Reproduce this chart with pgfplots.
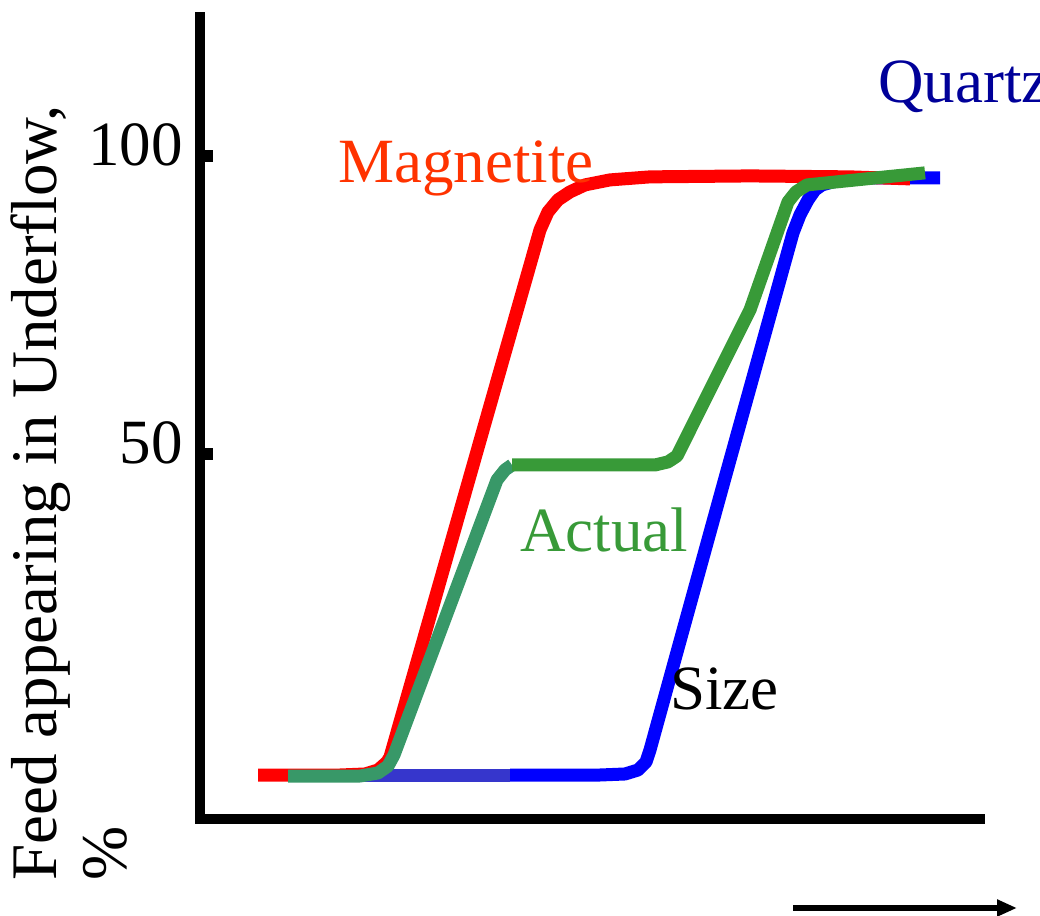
\documentclass[border=0pt]{standalone}
\usepackage{fontspec}
\setmainfont{Liberation Serif}
\usepackage{pgfplots}
\pgfplotsset{compat=1.18}
\usetikzlibrary{arrows.meta}

\definecolor{magred}{RGB}{255,0,0}
\definecolor{magtext}{RGB}{255,51,0}
\definecolor{qzblue}{RGB}{0,0,255}
\definecolor{qzlight}{RGB}{54,54,204}
\definecolor{qztext}{RGB}{0,0,153}
\definecolor{actgreen}{RGB}{56,154,56}
\definecolor{actteal}{RGB}{56,152,104}

\newcommand{\lblfont}{\fontsize{31.5pt}{36pt}\selectfont}
\newcommand{\ylblfont}{\fontsize{32.5pt}{38pt}\selectfont}

\begin{document}
\begin{tikzpicture}[x=1pt,y=1pt]
\path[use as bounding box, clip] (0,0) rectangle (520,458);
\begin{axis}[
  at={(100pt,48.5pt)}, anchor=south west,
  scale only axis, width=390pt, height=401pt,
  xmin=200, xmax=980, ymin=-11.24, ymax=123.3,
  axis lines*=left,
  axis line style={line width=5pt, line cap=rect, black},
  xtick=\empty, ytick={50,100},
  tick align=inside,
  major tick length=6.5pt,
  ytick style={line width=6pt, black},
  yticklabel style={font=\lblfont, xshift=-5pt, yshift=5.5pt},
  /pgf/number format/assume math mode=true,
  clip=false,
  every axis plot/.append style={line width=6.5pt, line join=round, line cap=butt},
]
% quartz: pale lower stretch, then the main curve
\addplot[qzlight] coordinates {(303,-3.86) (510,-3.86)};
\addplot[qzblue] coordinates {
  (510,-3.86) (600,-3.86) (625,-3.69) (638,-3.02) (646,-1.68) (650,0.34)
  (725,45.97) (793,87.08) (800,90.10) (808,92.62) (815,94.30) (822,95.13)
  (840,95.97) (870,96.31) (940,96.31)};
% magnetite
\addplot[magred] coordinates {
  (258,-3.86) (340,-3.86) (365,-3.69) (378,-3.02) (387,-1.68) (390,-0.84)
  (540,87.58) (548,90.60) (558,92.62) (570,93.96) (585,95.13) (610,95.97)
  (650,96.48) (750,96.64) (850,96.48) (910,96.14)};
% actual separation
\addplot[actteal] coordinates {
  (288,-4.03) (360,-4.03) (378,-3.52) (388,-2.35) (394,-0.50)
  (497,45.64) (505,47.32) (512,48.15)};
\addplot[actgreen] coordinates {
  (512,48.15) (600,48.15) (655,48.15) (668,48.66) (677,49.66)
  (750,74.16) (788,92.28) (796,93.96) (807,95.13) (925,97.15)};

\node[anchor=base west, inner sep=0pt, text=magtext, font=\lblfont] at (axis cs:338,95.47) {Magnetite};
\node[anchor=base west, inner sep=0pt, text=actgreen, font=\lblfont] at (axis cs:520,33.56) {Actual};
\node[anchor=base west, inner sep=0pt, font=\lblfont] at (axis cs:670,7.05) {Size};
\node[anchor=base west, inner sep=0pt, text=qztext, font=\lblfont] at (axis cs:878,108.9) {Quartz};

\node[rotate=90, anchor=base west, inner sep=0pt, font=\ylblfont] at (axis cs:57,-21.64) {Feed appearing in Underflow,};
\node[rotate=90, anchor=base west, inner sep=0pt, font=\ylblfont] at (axis cs:126,-21.64) {\%};

\draw[line width=3pt, -{Triangle[length=10pt,width=8pt]}] (axis cs:793,-26.17) -- (axis cs:1017,-26.17);
\end{axis}
\end{tikzpicture}
\end{document}
